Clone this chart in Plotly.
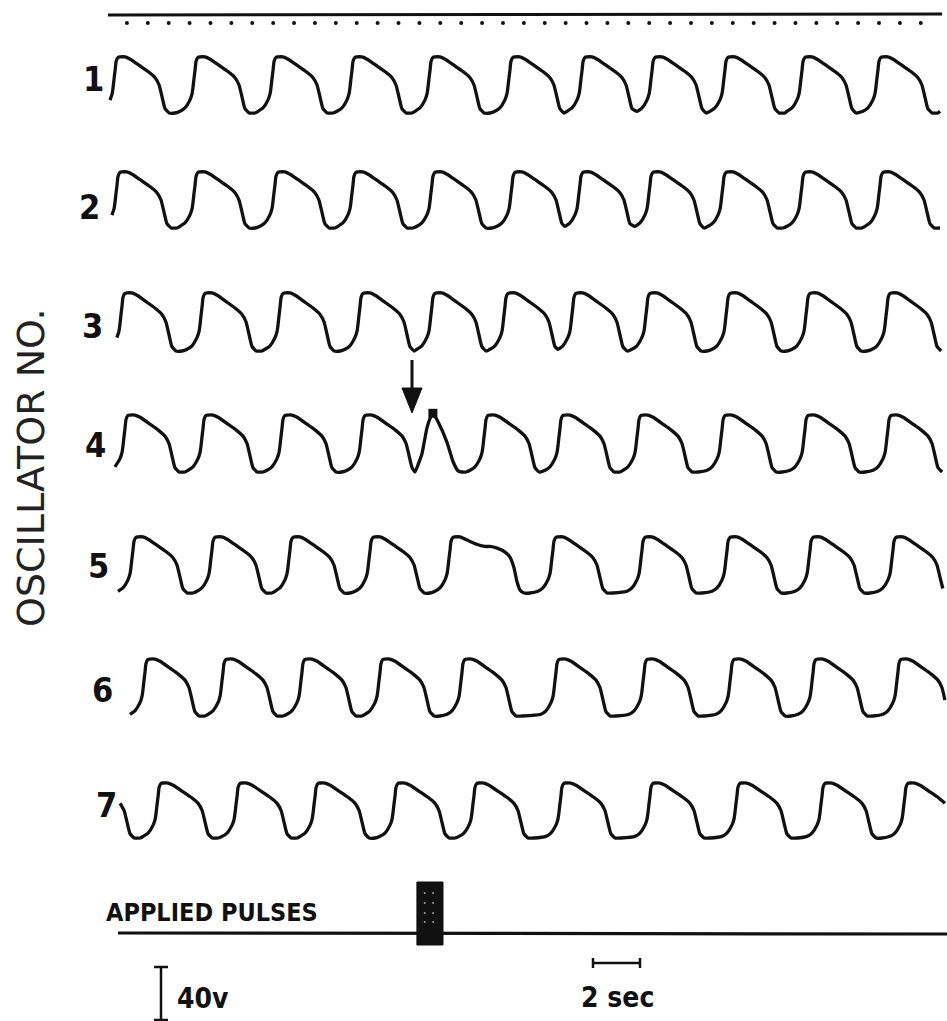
import numpy as np
import plotly.graph_objects as go

# ---------------------------------------------------------------- data
OSCILLATOR_NO = ["1", "2", "3", "4", "5", "6", "7"]

# times (s) of the waveform peaks of each oscillator (first/last lie just outside the record)
PEAKS_S_1 = [-2.89, 0.43, 3.83, 7.15, 10.51, 13.83, 17.23, 20.30, 23.28, 26.38, 29.66, 32.89, 36.17]
PEAKS_S_2 = [-2.81, 0.51, 3.83, 7.23, 10.55, 13.91, 17.32, 20.21, 23.19, 26.30, 29.66, 32.98, 36.26]
PEAKS_S_3 = [-2.60, 0.72, 4.13, 7.45, 10.85, 13.91, 17.02, 19.91, 23.06, 26.47, 29.87, 33.28, 36.60]
PEAKS_S_4 = [-2.47, 0.85, 4.17, 7.53, 10.94, 16.17, 19.36, 22.68, 26.26, 29.79, 33.32, 36.64]
PEAKS_S_5 = [-2.13, 1.19, 4.55, 7.87, 11.28, 14.68, 19.06, 22.85, 26.47, 30.00, 33.53, 36.85]
PEAKS_S_6 = [-2.13, 1.70, 5.02, 8.38, 11.70, 15.19, 19.19, 22.94, 26.64, 30.13, 33.74, 37.06]
PEAKS_S_7 = [-1.06, 2.26, 5.62, 8.94, 12.34, 15.70, 19.40, 23.19, 26.89, 30.51, 34.04, 37.36]
PEAKS_S = [PEAKS_S_1, PEAKS_S_2, PEAKS_S_3, PEAKS_S_4, PEAKS_S_5, PEAKS_S_6, PEAKS_S_7]

# peak-to-trough swing of each oscillator (V)
AMPLITUDE_V = [42.3, 42.3, 43.8, 43.0, 42.3, 43.0, 41.5]

# recorded span of each trace (s)
TRACE_START_S = [0.00, 0.00, 0.09, 0.13, 0.21, 0.21, 0.30]
TRACE_END_S = [35.32, 35.32, 35.57, 35.57, 35.57, 35.57, 35.57]

# shape of one cycle, read from the record (fraction of the swing below the peak)
FALL_AFTER_PEAK_S = [0.00, 0.21, 0.43, 0.85, 1.19, 1.49, 1.66, 1.79, 1.91, 2.09, 2.34]
FALL_FRACTION = [0.00, 0.00, 0.04, 0.16, 0.26, 0.37, 0.50, 0.72, 0.92, 1.00, 1.00]
RISE_BEFORE_PEAK_S = [-0.85, -0.64, -0.43, -0.34, -0.30, -0.26, -0.21, -0.17, -0.09]
RISE_FRACTION = [0.97, 0.91, 0.77, 0.66, 0.55, 0.40, 0.23, 0.08, 0.01]

# oscillator 4: response to the applied pulses
PERTURB_4_S = [12.98, 13.11, 13.28, 13.36, 13.49, 13.62, 13.74, 13.96, 14.34, 14.60, 14.81, 14.98, 15.15]
PERTURB_4_F = [1.00, 0.87, 0.67, 0.50, 0.22, 0.06, -0.03, 0.12, 0.48, 0.82, 0.98, 1.00, 1.00]
# oscillator 5: lengthened cycle after the pulses
PERTURB_5_S = [14.89, 15.32, 15.66, 15.96, 16.17, 16.47, 16.81, 17.02, 17.19, 17.32, 17.45, 17.62, 17.87]
PERTURB_5_F = [0.00, 0.08, 0.14, 0.17, 0.17, 0.20, 0.27, 0.36, 0.55, 0.80, 0.95, 1.00, 1.00]

PULSE_START_S = 13.06
PULSE_END_S = 14.17
TIMING_MARK_FIRST_S = 0.72
TIMING_MARK_STEP_S = 0.889
SCALE_V = 40
SCALE_S = 2

# ---------------------------------------------------------------- layout geometry
W, H = 947, 1021
PX_PER_S = 47 / 2
PX_PER_V = 53 / 40
X0_PX = 110
TRACE_TROUGH_PX = [113, 228, 351, 472, 593, 716, 838]
LABEL_POS_PX = [(93, 79), (89, 207), (92, 326), (95, 445), (98, 566), (102, 690), (106, 805)]
INK = "#111111"


def tx(px):
    return (px - X0_PX) / PX_PER_S


def vy(py):
    return -py / PX_PER_V


def build_cycle_points(peaks, overrides=None):
    ts, fs = [], []
    for p, q in zip(peaks[:-1], peaks[1:]):
        rise_start = q + RISE_BEFORE_PEAK_S[0]
        for dt, f in zip(FALL_AFTER_PEAK_S, FALL_FRACTION):
            if p + dt < rise_start - 0.05:
                ts.append(p + dt)
                fs.append(f)
        for dt, f in zip(RISE_BEFORE_PEAK_S, RISE_FRACTION):
            ts.append(q + dt)
            fs.append(f)
    ts.append(peaks[-1])
    fs.append(0.0)
    ts, fs = np.array(ts), np.array(fs)
    if overrides:
        for (a, b, ots, ofs) in overrides:
            keep = ~((ts > a) & (ts < b))
            ts = np.concatenate([ts[keep], ots])
            fs = np.concatenate([fs[keep], ofs])
    order = np.argsort(ts)
    return ts[order], fs[order]


OVERRIDES = {
    3: [(12.89, 15.30, np.array(PERTURB_4_S), np.array(PERTURB_4_F))],
    4: [(14.68, 18.20, np.array(PERTURB_5_S), np.array(PERTURB_5_F))],
}

fig = go.Figure()

for k in range(7):
    ts, fs = build_cycle_points(PEAKS_S[k], OVERRIDES.get(k))
    m = (ts >= TRACE_START_S[k]) & (ts <= TRACE_END_S[k])
    ts, fs = ts[m], fs[m]
    y = vy(TRACE_TROUGH_PX[k]) + AMPLITUDE_V[k] * (1 - fs)
    fig.add_trace(go.Scatter(
        x=ts, y=y, mode="lines",
        line=dict(color=INK, width=3.3, shape="spline", smoothing=0.45),
        hoverinfo="skip", showlegend=False))

# blob at the top of the forced spike of oscillator 4
fig.add_trace(go.Scatter(
    x=[PERTURB_4_S[6]], y=[vy(TRACE_TROUGH_PX[3]) + AMPLITUDE_V[3] * (1 - PERTURB_4_F[6])],
    mode="markers", marker=dict(symbol="square", size=9, color=INK),
    hoverinfo="skip", showlegend=False))

# time marker line with dots
fig.add_trace(go.Scatter(
    x=[tx(108), tx(942)], y=[vy(15), vy(14)], mode="lines",
    line=dict(color=INK, width=3), hoverinfo="skip", showlegend=False))
marks = np.arange(TIMING_MARK_FIRST_S, tx(925), TIMING_MARK_STEP_S)
fig.add_trace(go.Scatter(
    x=marks, y=np.full(len(marks), vy(23)), mode="markers",
    marker=dict(size=4, color=INK), hoverinfo="skip", showlegend=False))

# applied pulses line and burst
fig.add_trace(go.Scatter(
    x=[tx(118), tx(947)], y=[vy(933), vy(934)], mode="lines",
    line=dict(color=INK, width=3.2), hoverinfo="skip", showlegend=False))
fig.add_trace(go.Scatter(
    x=[PULSE_START_S, PULSE_END_S, PULSE_END_S, PULSE_START_S, PULSE_START_S],
    y=[vy(882), vy(882), vy(945), vy(945), vy(882)],
    mode="lines", fill="toself", fillcolor=INK, line=dict(color=INK, width=1),
    hoverinfo="skip", showlegend=False))
# small light specks between individual pulses
spx, spy = [], []
for frac in (0.3, 0.62):
    for py in (893, 903, 913, 922):
        spx.append(PULSE_START_S + frac * (PULSE_END_S - PULSE_START_S))
        spy.append(vy(py))
fig.add_trace(go.Scatter(
    x=spx, y=spy, mode="markers", marker=dict(size=2, color="#9a9a9a"),
    hoverinfo="skip", showlegend=False))

# arrow above oscillator 4
ax_s = tx(412)
fig.add_trace(go.Scatter(
    x=[ax_s, ax_s], y=[vy(360), vy(392)], mode="lines",
    line=dict(color=INK, width=3), hoverinfo="skip", showlegend=False))
fig.add_trace(go.Scatter(
    x=[tx(402), tx(422), ax_s, tx(402)], y=[vy(388), vy(388), vy(413), vy(388)],
    mode="lines", fill="toself", fillcolor=INK, line=dict(color=INK, width=1),
    hoverinfo="skip", showlegend=False))

# 40 V scale bar
bar_x = tx(161)
bar_bot = vy(1020)
bar_top = bar_bot + SCALE_V
fig.add_trace(go.Scatter(
    x=[bar_x, bar_x, None, tx(154), tx(168), None, tx(154), tx(168)],
    y=[bar_bot, bar_top, None, bar_top, bar_top, None, bar_bot, bar_bot],
    mode="lines", line=dict(color=INK, width=2.5), hoverinfo="skip", showlegend=False))

# 2 s scale bar
s0 = tx(593)
s1 = s0 + SCALE_S
fig.add_trace(go.Scatter(
    x=[s0, s1, None, s0, s0, None, s1, s1],
    y=[vy(963), vy(963), None, vy(958), vy(968), None, vy(958), vy(968)],
    mode="lines", line=dict(color=INK, width=2.5), hoverinfo="skip", showlegend=False))

COND = "DejaVu Sans Condensed, Liberation Sans Narrow, DejaVu Sans, sans-serif"
ann = []
for lab, (px, py) in zip(OSCILLATOR_NO, LABEL_POS_PX):
    ann.append(dict(x=tx(px), y=vy(py), text=lab, showarrow=False, xanchor="center", yanchor="middle",
                    font=dict(family=COND, size=34, color=INK, weight="bold")))
ann.append(dict(x=tx(31), y=vy(468), text="OSCILLATOR NO.", textangle=-90, showarrow=False,
                xanchor="center", yanchor="middle",
                font=dict(family="DejaVu Sans, sans-serif", size=38, color="#222")))
ann.append(dict(x=tx(104), y=vy(912), text="APPLIED PULSES", showarrow=False, xanchor="left",
                yanchor="middle", font=dict(family=COND, size=25, color=INK, weight="bold")))
ann.append(dict(x=tx(175), y=vy(998), text="40v", showarrow=False, xanchor="left",
                yanchor="middle", font=dict(family=COND, size=28, color=INK, weight="bold")))
ann.append(dict(x=tx(617), y=vy(997), text="2 sec", showarrow=False, xanchor="center",
                yanchor="middle", font=dict(family=COND, size=28, color=INK, weight="bold")))

fig.update_layout(
    width=W, height=H, margin=dict(l=0, r=0, t=0, b=0),
    paper_bgcolor="white", plot_bgcolor="white", showlegend=False,
    xaxis=dict(range=[tx(0), tx(W)], visible=False, fixedrange=True),
    yaxis=dict(range=[vy(H), vy(0)], visible=False, fixedrange=True),
    annotations=ann,
)
fig.write_html("out.html")
